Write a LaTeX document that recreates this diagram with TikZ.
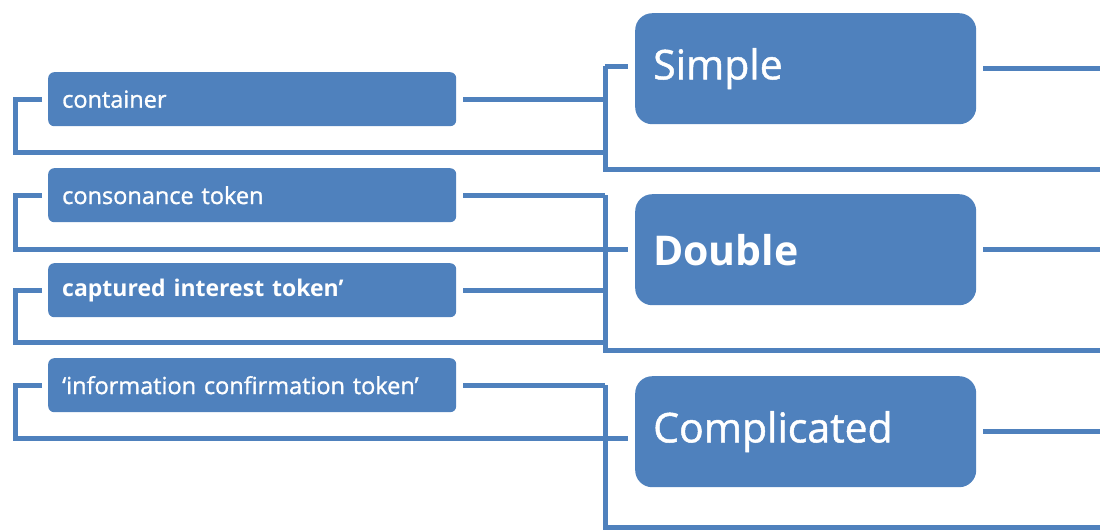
\documentclass[tikz,border=0pt]{standalone}
\usepackage{fontspec}
\setmainfont{Open Sans}
\newfontfamily\heavyfont[FakeBold=1.2]{Open Sans}
\definecolor{boxblue}{HTML}{4F81BD}
\begin{document}
\begin{tikzpicture}[x=1pt,y=-1pt,
  conn/.style={draw=boxblue,line width=5pt,line cap=butt,line join=miter},
  leafbox/.style={rectangle,rounded corners=6pt,fill=boxblue,text=white,
    anchor=north west,minimum height=54pt,text width=380pt,inner xsep=14pt,
    inner ysep=0pt,align=left,font=\heavyfont\fontsize{23.5}{27}\selectfont},
  catbox/.style={rectangle,rounded corners=17pt,fill=boxblue,text=white,
    anchor=north west,minimum height=111pt,text width=305pt,inner xsep=18pt,
    inner ysep=0pt,align=left,font=\heavyfont\fontsize{41}{47}\selectfont}]
\useasboundingbox (0,0) rectangle (1100,531);

% left-hand items
\node[leafbox] (l1) at (48,72)  {container};
\node[leafbox] (l2) at (48,168) {consonance token};
\node[leafbox] (l3) at (48,263) {\normalfont\fontsize{23}{27}\selectfont\bfseries captured interest token’};
\node[leafbox] (l4) at (48,358) {‘information confirmation token’};

% categories
\node[catbox] (r1) at (635,13)  {Simple};
\node[catbox] (r2) at (635,194) {\normalfont\fontsize{41}{47}\selectfont\bfseries Double};
\node[catbox] (r3) at (635,376) {Complicated};

% bracket corners and right-hand ends
\coordinate (v1t) at (605,66);  \coordinate (v1b) at (605,169);
\coordinate (v2t) at (605,195); \coordinate (v2b) at (605,350);
\coordinate (v3t) at (605,385); \coordinate (v3b) at (605,527);
\coordinate (k1) at (15,152); \coordinate (k2) at (15,249);
\coordinate (k3) at (15,342); \coordinate (k4) at (15,438);
\coordinate (e1) at (1100,169); \coordinate (e2) at (1100,350);
\coordinate (e3) at (1100,527); \coordinate (ex) at (1100,0);

% group: Simple
\draw[conn,shorten <=7pt] (l1.east) -- (l1.east -| v1t);
\draw[conn] ([xshift=-6pt]l1.west) -| (k1) -- (k1 -| v1t);
\draw[conn] (v1t) -- (v1b) -- (e1);
\draw[conn,shorten >=7pt] (v1t) -- (v1t -| r1.west);
\draw[conn,shorten <=7pt] (r1.east) -- (r1.east -| ex);

% group: Double
\draw[conn,shorten <=7pt] (l2.east) -- (l2.east -| v2t);
\draw[conn,shorten >=7pt] ([xshift=-6pt]l2.west) -| (k2) -- (k2 -| r2.west);
\draw[conn,shorten <=7pt] (l3.east) -- (l3.east -| v2t);
\draw[conn] ([xshift=-6pt]l3.west) -| (k3) -- (k3 -| v2t);
\draw[conn] (v2t) -- (v2b) -- (e2);
\draw[conn,shorten <=7pt] (r2.east) -- (r2.east -| ex);

% group: Complicated
\draw[conn,shorten <=7pt] (l4.east) -- (l4.east -| v3t);
\draw[conn,shorten >=7pt] ([xshift=-6pt]l4.west) -| (k4) -- (k4 -| r3.west);
\draw[conn] (v3t) -- (v3b) -- (e3);
\draw[conn,shorten <=7pt] (r3.east) -- (r3.east -| ex);
\end{tikzpicture}
\end{document}
